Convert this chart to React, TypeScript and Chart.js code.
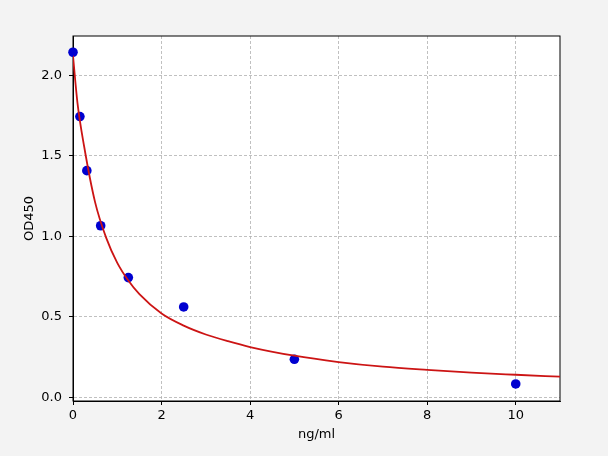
import React, { useEffect, useRef } from "react";
import { Chart, registerables } from "chart.js";

Chart.register(...registerables);

// Standard points (concentration in ng/ml, OD450)
const concentrations = [0, 0.156, 0.3125, 0.625, 1.25, 2.5, 5, 10];
const odValues = [2.142, 1.743, 1.407, 1.065, 0.743, 0.561, 0.236, 0.083];

// Fitted curve
const curveX = [0, 0.1, 0.25, 0.5, 0.75, 1, 1.25, 1.5, 2, 2.5, 3, 3.5, 4, 5, 6, 7, 8, 9, 10, 11];
const curveY = [2.12, 1.83, 1.56, 1.21, 0.99, 0.835, 0.725, 0.64, 0.52, 0.445, 0.39, 0.348, 0.312, 0.258, 0.219, 0.19, 0.17, 0.153, 0.14, 0.128];

// Axis ticks
const xTicks = [0, 2, 4, 6, 8, 10];
const yTicks = [0, 0.5, 1.0, 1.5, 2.0];
const xRange = [0, 11];
const yRange = [-0.023, 2.243];

const FONT = "'DejaVu Sans', sans-serif";

const framePlugin = {
  id: "frame",
  beforeDraw(chart: any) {
    const { ctx, chartArea, width, height } = chart;
    ctx.save();
    ctx.fillStyle = "#f3f3f3";
    ctx.fillRect(0, 0, width, height);
    ctx.fillStyle = "#ffffff";
    ctx.fillRect(chartArea.left, chartArea.top, chartArea.right - chartArea.left, chartArea.bottom - chartArea.top);
    ctx.restore();
  },
  beforeDatasetsDraw(chart: any) {
    const { ctx, chartArea } = chart;
    ctx.save();
    ctx.strokeStyle = "#000000";
    ctx.lineWidth = 1;
    ctx.strokeRect(chartArea.left, chartArea.top, chartArea.right - chartArea.left, chartArea.bottom - chartArea.top);
    ctx.restore();
  },
};

export default function App() {
  const ref = useRef<HTMLCanvasElement | null>(null);

  useEffect(() => {
    document.body.style.margin = "0";
    const canvas = ref.current;
    if (!canvas) return;
    const gridCommon = {
      color: "#b0b0b0",
      lineWidth: 0.8,
      drawTicks: true,
      tickLength: 4,
      tickColor: "#000000",
      tickWidth: 1,
      borderDash: [3, 2],
    };
    const chart = new Chart(canvas, {
      type: "scatter",
      data: {
        datasets: [
          {
            label: "fit",
            data: curveX.map((x, i) => ({ x, y: curveY[i] })),
            showLine: true,
            borderColor: "#cc1414",
            borderWidth: 1.8,
            pointRadius: 0,
            cubicInterpolationMode: "monotone",
            order: 0,
          } as any,
          {
            label: "standards",
            data: concentrations.map((x, i) => ({ x, y: odValues[i] })),
            showLine: false,
            backgroundColor: "#0000d0",
            borderColor: "#0000d0",
            pointRadius: 4.8,
            pointBorderWidth: 0,
            clip: false,
            order: 1,
          } as any,
        ],
      },
      options: {
        responsive: false,
        animation: false,
        events: [],
        layout: { padding: { left: 0, top: 36, right: 48, bottom: 0 } },
        plugins: { legend: { display: false }, tooltip: { enabled: false } },
        scales: {
          x: {
            type: "linear",
            min: xRange[0],
            max: xRange[1],
            afterBuildTicks: (scale: any) => {
              scale.ticks = xTicks.map((value) => ({ value }));
            },
            afterFit: (scale: any) => {
              scale.height = 55;
            },
            ticks: {
              color: "#000000",
              font: { family: FONT, size: 13 },
              padding: 3,
              maxRotation: 0,
              callback: (v: any) => String(v),
            },
            grid: gridCommon,
            border: { display: true, color: "#000000", width: 1, dash: [3, 2] },
            title: {
              display: true,
              text: "ng/ml",
              color: "#000000",
              font: { family: FONT, size: 13 },
              padding: { top: 0, bottom: 14 },
            },
          },
          y: {
            type: "linear",
            min: yRange[0],
            max: yRange[1],
            afterBuildTicks: (scale: any) => {
              scale.ticks = yTicks.map((value) => ({ value }));
            },
            afterFit: (scale: any) => {
              scale.width = 73;
            },
            ticks: {
              color: "#000000",
              font: { family: FONT, size: 13 },
              padding: 7,
              callback: (v: any) => Number(v).toFixed(1),
            },
            grid: gridCommon,
            border: { display: true, color: "#000000", width: 1, dash: [3, 2] },
            title: {
              display: true,
              text: "OD450",
              color: "#000000",
              font: { family: FONT, size: 13 },
              padding: { top: 22, bottom: 0 },
            },
          },
        },
      } as any,
      plugins: [framePlugin],
    });
    return () => chart.destroy();
  }, []);

  return (
    <div style={{ width: 608, height: 456, background: "#f3f3f3" }}>
      <canvas ref={ref} width={608} height={456} style={{ display: "block", width: 608, height: 456 }} />
    </div>
  );
}
